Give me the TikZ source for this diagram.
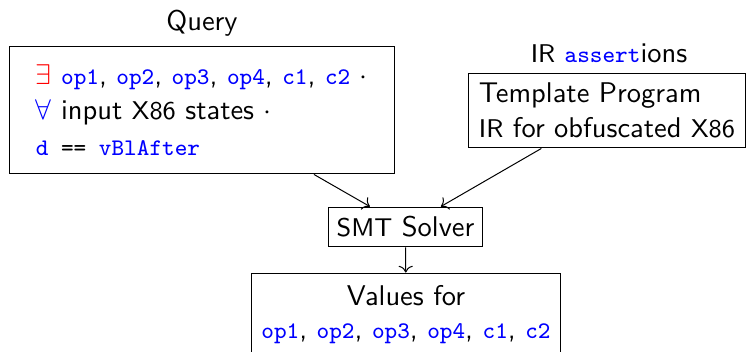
\documentclass[tikz,border=0pt]{standalone}
\usepackage{fontspec}
\usetikzlibrary{arrows.meta}

% typewriter type at the size used for code
\newcommand\codefont{\fontsize{8.35pt}{10pt}\selectfont\ttfamily}
% identifiers in blue typewriter type
\newcommand\kw[1]{{\codefont\color{blue}#1}}
% reduced-size abbreviations
\newcommand\abbr[1]{{\fontsize{9pt}{11pt}\selectfont#1}}

\begin{document}
\begin{tikzpicture}[
    x=0.351pt, y=-0.351pt,
    font=\sffamily,
    box/.style={draw, line width=0.35pt, inner sep=0pt},
    flow/.style={->, line width=0.35pt}
  ]
  \useasboundingbox (0,0) rectangle (747,352);

  % labels above the inputs
  \node[anchor=base] (qlabel) at (202,30) {Query};
  \node[anchor=base] (irlabel) at (609,62) {\abbr{IR} \kw{assert}ions};

  % query box
  \node[box, minimum width=135pt, minimum height=44.9pt, align=left,
        font=\sffamily\fontsize{10pt}{12.5pt}\selectfont] (query) at (201.75,110)
    {\textcolor{red}{$\exists$} \kw{op1}, \kw{op2}, \kw{op3}, \kw{op4}, \kw{c1}, \kw{c2} $\cdot$\\
     \textcolor{blue}{$\forall$} input \abbr{X86} states $\cdot$\\
     {\codefont\textcolor{blue}{d} == \textcolor{blue}{vBlAfter}}};

  % template program box
  \node[box, minimum width=96.9pt, minimum height=26.3pt, align=left,
        font=\sffamily\fontsize{10pt}{12.3pt}\selectfont] (template) at (607,110.5)
    {Template Program\\ \abbr{IR} for obfuscated \abbr{X86}};

  % solver
  \node[box, minimum width=54.4pt, minimum height=14pt] (smt) at (405.5,227)
    {\abbr{SMT} Solver};

  % result
  \node[box, minimum width=108.8pt, minimum height=29.1pt, align=center,
        font=\sffamily\fontsize{10pt}{11.6pt}\selectfont] (values) at (406,314.5)
    {Values for\\ \kw{op1}, \kw{op2}, \kw{op3}, \kw{op4}, \kw{c1}, \kw{c2}};

  \draw[flow] (query) -- (smt);
  \draw[flow] (template) -- (smt);
  \draw[flow] (smt) -- (values);
\end{tikzpicture}
\end{document}
